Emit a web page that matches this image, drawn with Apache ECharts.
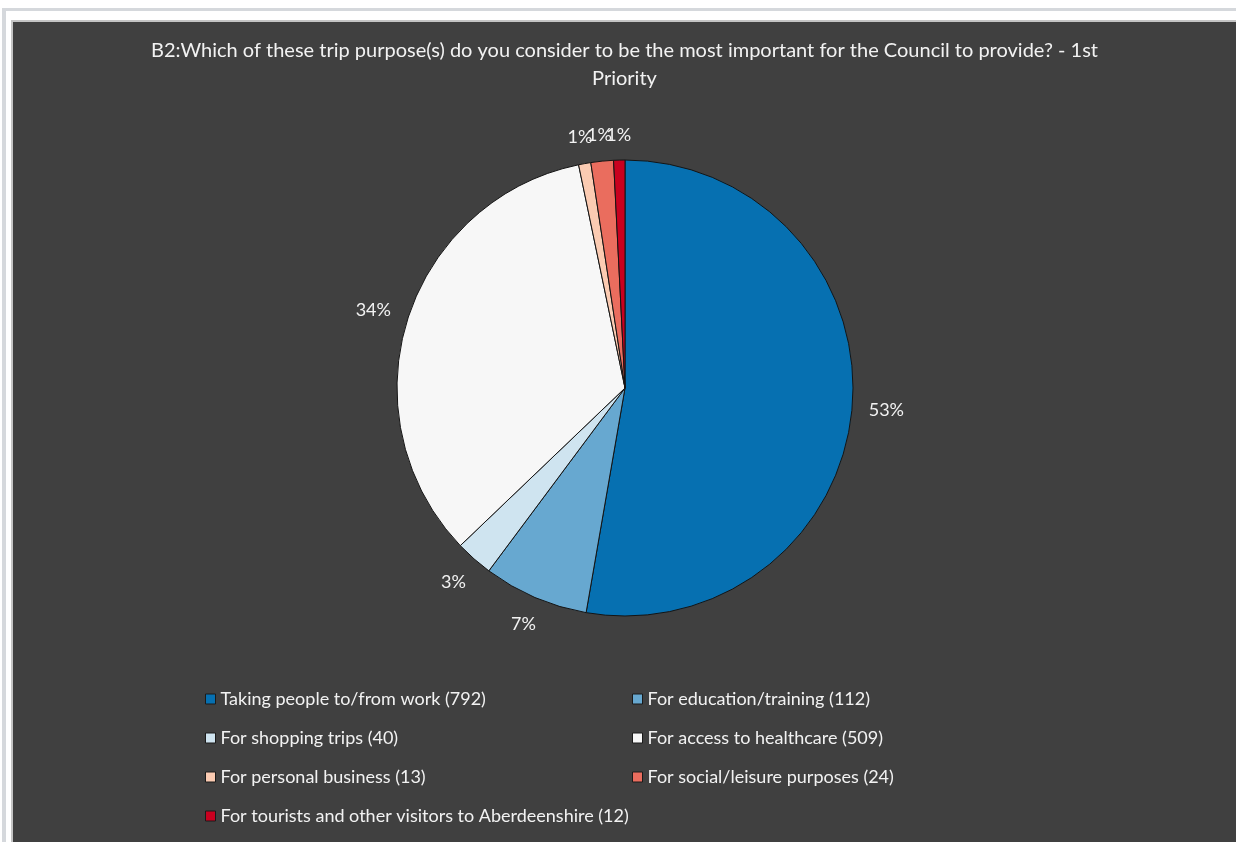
<!DOCTYPE html>
<html>
<head>
<meta charset="utf-8">
<title>B2 trip purposes - 1st Priority</title>
<script src="https://cdn.jsdelivr.net/npm/echarts@6/dist/echarts.min.js"></script>
<style>
  html, body { margin: 0; padding: 0; background: #ffffff; width: 1236px; height: 842px; overflow: hidden; }
  #topRule { position: absolute; left: 2px; top: 8px; width: 1234px; height: 3px; background: #d5d8dc; }
  #leftRule { position: absolute; left: 2px; top: 8px; width: 4px; height: 834px; background: #d5d8dc; }
  #panel { position: absolute; left: 11px; top: 20px; width: 1225px; height: 822px; background: #c4c4c4; }
  #chart { position: absolute; left: 13px; top: 22px; width: 1223px; height: 820px; background: #404040; }
</style>
</head>
<body>
<div id="topRule"></div>
<div id="leftRule"></div>
<div id="panel"></div>
<div id="chart"></div>
<script>
// Survey question B2 – responses by trip purpose (1st priority)
const titleText = 'B2:Which of these trip purpose(s) do you consider to be the most important for the Council to provide? - 1st\nPriority';

const categories = [
  'Taking people to/from work',
  'For education/training',
  'For shopping trips',
  'For access to healthcare',
  'For personal business',
  'For social/leisure purposes',
  'For tourists and other visitors to Aberdeenshire'
];
const counts = [792, 112, 40, 509, 13, 24, 12];
const sliceColors = ['#0670b1', '#67a8d0', '#cfe4f0', '#f7f7f7', '#fbcbb2', '#ea6d5e', '#c9001f'];

const PIE_CENTER = [612, 366];
const PIE_RADIUS = 228;
const LABEL_GAP = 16;
const TEXT_COLOR = '#f2f2f2';
const FONT = 'Lato, "Open Sans", sans-serif';

const total = counts.reduce((a, b) => a + b, 0);
const midAngles = [];
let acc = 0;
counts.forEach(v => {
  midAngles.push(((acc + v / 2) / total) * Math.PI * 2);
  acc += v;
});

const pieData = categories.map((name, i) => ({
  name: name,
  value: counts[i],
  itemStyle: { color: sliceColors[i] }
}));

const countByName = {};
categories.forEach((c, i) => { countByName[c] = counts[i]; });

function legendBlock(indices, left) {
  return {
    data: indices.map(i => categories[i]),
    orient: 'vertical',
    left: left,
    top: 668,
    padding: 0,
    icon: 'rect',
    itemWidth: 10,
    itemHeight: 10,
    itemGap: 21,
    selectedMode: false,
    itemStyle: { borderColor: '#1a1a1a', borderWidth: 1 },
    formatter: name => name + ' (' + countByName[name] + ')',
    textStyle: { color: TEXT_COLOR, fontSize: 18, lineHeight: 18, fontFamily: FONT }
  };
}

const chart = echarts.init(document.getElementById('chart'), null, { renderer: 'canvas' });

chart.setOption({
  backgroundColor: '#404040',
  animation: false,
  title: {
    text: titleText,
    left: '50%',
    top: 15,
    padding: 0,
    textAlign: 'center',
    textStyle: { color: TEXT_COLOR, fontSize: 20, fontWeight: 'normal', lineHeight: 28, fontFamily: FONT }
  },
  legend: [
    legendBlock([0, 2, 4, 6], 192),
    legendBlock([1, 3, 5], 619)
  ],
  series: [{
    type: 'pie',
    center: PIE_CENTER,
    radius: PIE_RADIUS,
    startAngle: 90,
    clockwise: true,
    silent: true,
    avoidLabelOverlap: false,
    percentPrecision: 0,
    data: pieData,
    itemStyle: { borderColor: '#141414', borderWidth: 1 },
    emphasis: { disabled: true },
    labelLine: { show: false },
    label: {
      show: true,
      position: 'outside',
      formatter: '{d}%',
      color: TEXT_COLOR,
      fontSize: 18,
      fontFamily: FONT
    },
    // place each label box just outside the rim, along its slice's mid-angle
    labelLayout: function (params) {
      const a = midAngles[params.dataIndex];
      const ux = Math.sin(a), uy = -Math.cos(a);
      const w = params.labelRect.width, h = params.labelRect.height;
      const support = Math.abs(ux) * w / 2 + Math.abs(uy) * h / 2;
      const d = PIE_RADIUS + LABEL_GAP + support;
      return {
        x: PIE_CENTER[0] + ux * d,
        y: PIE_CENTER[1] + uy * d,
        align: 'center',
        verticalAlign: 'middle',
        hideOverlap: false
      };
    }
  }]
});
</script>
</body>
</html>
